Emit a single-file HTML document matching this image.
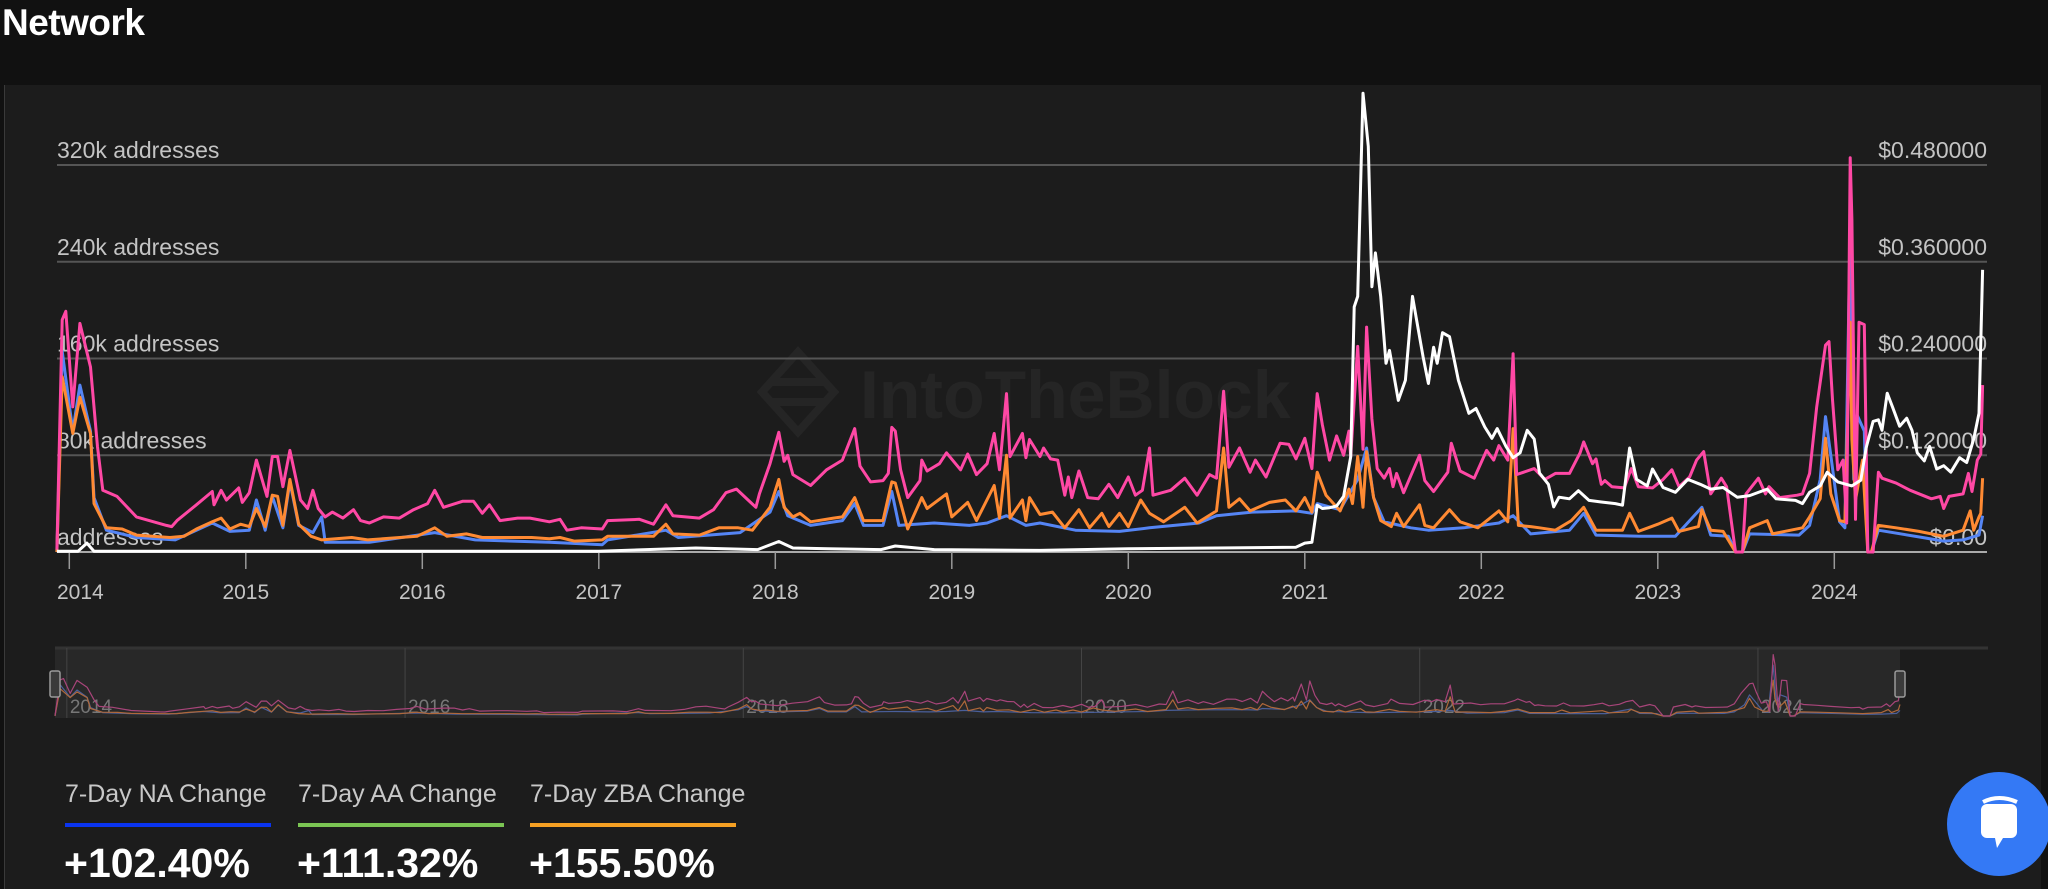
<!DOCTYPE html>
<html><head><meta charset="utf-8"><style>
html,body{margin:0;padding:0;background:#111;width:2048px;height:889px;overflow:hidden;font-family:"Liberation Sans",sans-serif}
#hdr{position:absolute;left:0;top:0;width:2048px;height:85px;background:#111}
#title{position:absolute;left:2px;top:2px;font-size:37px;font-weight:bold;color:#fff;letter-spacing:-0.5px}
#panel{position:absolute;left:4px;top:85px;width:2036px;height:804px;background:#1c1c1c;border-left:1px solid #3a3a3a}
svg{position:absolute;left:0;top:0}
.leg{position:absolute;color:#c8c8c8;font-size:25px}
.val{position:absolute;color:#fff;font-size:41px;font-weight:bold}
.bar{position:absolute;height:4px;width:206px}
#chat{position:absolute;left:1947px;top:772px;width:104px;height:104px;border-radius:52px;background:#3479f5}
</style></head><body>
<div id="hdr"><div id="title">Network</div></div>
<div id="panel"></div>
<svg id="chart" width="2048" height="889"></svg>
<div class="leg" style="left:65px;top:780px">7-Day NA Change</div>
<div class="leg" style="left:298px;top:780px">7-Day AA Change</div>
<div class="leg" style="left:530px;top:780px">7-Day ZBA Change</div>
<div class="bar" style="left:65px;top:823px;background:#0a34f0"></div>
<div class="bar" style="left:298px;top:823px;background:#7bc553"></div>
<div class="bar" style="left:530px;top:823px;background:#f5a023"></div>
<div class="val" style="left:64px;top:840px">+102.40%</div>
<div class="val" style="left:297px;top:840px">+111.32%</div>
<div class="val" style="left:529px;top:840px">+155.50%</div>
<div id="chat">
<svg width="104" height="104" style="position:absolute;left:0;top:0"><rect x="34" y="32" width="36" height="34" rx="6" fill="#fff"/><path d="M36 30 Q52 22 70 30" stroke="#fff" stroke-width="4" fill="none"/><path d="M48 66 L50 76 L56 66Z" fill="#fff"/></svg></div>
<script>
const leftTicks=[0,80,160,240,320];
const leftTickLabels=["addresses","80k addresses","160k addresses","240k addresses","320k addresses"];
const rightTicks=[0,0.12,0.24,0.36,0.48];
const rightTickLabels=["$0.00","$0.120000","$0.240000","$0.360000","$0.480000"];
const years=[2014,2015,2016,2017,2018,2019,2020,2021,2022,2023,2024];
const miniYears=[2014,2016,2018,2020,2022,2024];

const aaDates=[2013.93,2013.96,2013.98,2014.02,2014.06,2014.12,2014.16,2014.19,2014.27,2014.38,2014.55,2014.58,2014.61,2014.72,2014.81,2014.82,2014.86,2014.89,2014.96,2014.98,2015.02,2015.06,2015.12,2015.15,2015.18,2015.21,2015.25,2015.31,2015.35,2015.38,2015.41,2015.45,2015.49,2015.55,2015.61,2015.65,2015.70,2015.78,2015.87,2015.95,2016.03,2016.07,2016.12,2016.23,2016.29,2016.34,2016.38,2016.44,2016.54,2016.61,2016.72,2016.78,2016.82,2016.9,2017.02,2017.05,2017.23,2017.31,2017.38,2017.42,2017.57,2017.65,2017.72,2017.78,2017.86,2017.89,2017.91,2017.97,2018.02,2018.05,2018.07,2018.10,2018.20,2018.29,2018.38,2018.45,2018.48,2018.54,2018.61,2018.64,2018.66,2018.68,2018.71,2018.75,2018.82,2018.83,2018.86,2018.93,2018.97,2019.05,2019.09,2019.14,2019.20,2019.24,2019.27,2019.31,2019.33,2019.40,2019.42,2019.44,2019.50,2019.52,2019.56,2019.60,2019.64,2019.66,2019.68,2019.72,2019.77,2019.83,2019.89,2019.94,2020.0,2020.04,2020.08,2020.12,2020.14,2020.24,2020.32,2020.39,2020.46,2020.5,2020.54,2020.57,2020.63,2020.69,2020.72,2020.78,2020.86,2020.91,2020.95,2021.0,2021.04,2021.07,2021.10,2021.14,2021.18,2021.22,2021.25,2021.26,2021.30,2021.33,2021.35,2021.38,2021.41,2021.45,2021.48,2021.50,2021.52,2021.56,2021.65,2021.68,2021.73,2021.81,2021.83,2021.86,2021.88,2021.96,2022.03,2022.07,2022.10,2022.15,2022.18,2022.20,2022.30,2022.36,2022.42,2022.50,2022.56,2022.58,2022.63,2022.65,2022.68,2022.70,2022.74,2022.81,2022.85,2022.89,2022.97,2023.03,2023.08,2023.12,2023.18,2023.22,2023.26,2023.30,2023.36,2023.39,2023.44,2023.48,2023.50,2023.57,2023.61,2023.63,2023.69,2023.79,2023.82,2023.86,2023.90,2023.95,2023.97,2023.99,2024.02,2024.05,2024.07,2024.09,2024.10,2024.12,2024.14,2024.17,2024.19,2024.22,2024.25,2024.27,2024.35,2024.43,2024.55,2024.60,2024.62,2024.65,2024.73,2024.76,2024.78,2024.81,2024.83,2024.84];
const aaValues=[2,192,199,120,189,153,87,51,46,29,22,21,26,39,50,39,51,43,53,41,49,76,46,79,79,54,84,43,36,51,36,29,33,28,35,26,24,29,28,35,40,51,37,42,42,32,39,26,28,28,25,27,18,20,19,26,27,23,39,30,28,35,49,52,41,37,48,73,99,75,80,64,55,68,76,102,71,58,59,65,103,100,68,45,59,76,67,73,82,68,81,64,73,98,68,131,79,98,78,93,79,86,77,76,47,62,45,67,45,44,56,45,62,47,51,86,47,51,61,47,64,61,133,70,86,66,76,62,90,89,77,94,69,131,105,76,96,80,100,79,170,85,186,110,69,61,69,54,65,49,80,59,50,66,90,76,67,61,84,76,88,76,164,64,69,60,65,65,82,91,73,77,56,59,54,53,69,54,53,60,68,54,62,76,83,48,61,54,0,0,48,61,48,54,45,47,48,65,120,171,174,126,68,76,24,326,275,27,190,188,0,0,66,61,57,51,44,46,36,46,48,65,50,76,81,138];

const zbaDates=[2013.93,2013.96,2014.02,2014.06,2014.12,2014.14,2014.21,2014.30,2014.38,2014.57,2014.65,2014.72,2014.81,2014.86,2014.91,2014.97,2015.02,2015.06,2015.11,2015.15,2015.18,2015.21,2015.25,2015.30,2015.37,2015.43,2015.6,2015.69,2015.97,2016.07,2016.14,2016.25,2016.34,2016.62,2016.72,2016.78,2016.86,2017.02,2017.05,2017.31,2017.38,2017.42,2017.57,2017.68,2017.79,2017.87,2017.97,2018.02,2018.05,2018.10,2018.14,2018.20,2018.33,2018.38,2018.45,2018.50,2018.61,2018.66,2018.68,2018.75,2018.83,2018.86,2018.97,2019.0,2019.09,2019.14,2019.24,2019.27,2019.31,2019.33,2019.40,2019.42,2019.44,2019.50,2019.57,2019.64,2019.72,2019.78,2019.85,2019.89,2019.95,2020.0,2020.07,2020.12,2020.2,2020.32,2020.39,2020.5,2020.54,2020.57,2020.63,2020.69,2020.80,2020.89,2020.95,2021.0,2021.04,2021.07,2021.12,2021.20,2021.25,2021.27,2021.30,2021.33,2021.35,2021.39,2021.43,2021.49,2021.52,2021.56,2021.65,2021.68,2021.73,2021.82,2021.88,2021.98,2022.05,2022.10,2022.15,2022.18,2022.21,2022.28,2022.33,2022.42,2022.51,2022.58,2022.65,2022.80,2022.84,2022.89,2023.0,2023.08,2023.12,2023.23,2023.25,2023.30,2023.37,2023.44,2023.48,2023.52,2023.62,2023.65,2023.82,2023.86,2023.92,2023.95,2023.98,2024.03,2024.06,2024.09,2024.10,2024.12,2024.16,2024.19,2024.21,2024.25,2024.35,2024.48,2024.62,2024.73,2024.77,2024.79,2024.82,2024.83,2024.84];
const zbaValues=[0,145,98,128,98,40,20,19,14,12,13,19,25,28,19,23,21,36,21,47,46,22,60,23,13,10,12,10,13,20,13,15,12,12,11,12,9,10,13,13,23,15,14,20,20,18,37,60,37,29,32,25,28,29,45,26,26,58,57,19,45,36,48,29,41,26,55,28,80,28,43,26,45,31,33,20,35,20,32,21,32,21,43,32,25,37,24,34,86,37,44,34,41,43,34,45,33,66,47,34,52,40,79,37,83,45,26,21,32,21,39,22,20,35,25,20,28,34,25,102,22,21,20,18,26,37,18,18,32,17,23,28,17,21,35,18,17,0,0,20,26,15,20,29,44,94,48,26,25,190,93,43,76,0,0,22,20,17,13,18,34,18,29,32,61];

const naDates=[2013.93,2013.96,2014.02,2014.06,2014.12,2014.14,2014.21,2014.38,2014.6,2014.81,2014.91,2015.02,2015.06,2015.11,2015.15,2015.21,2015.25,2015.30,2015.38,2015.43,2015.45,2015.7,2016.07,2016.3,2016.72,2017.02,2017.05,2017.38,2017.45,2017.8,2017.97,2018.02,2018.07,2018.2,2018.38,2018.45,2018.50,2018.61,2018.66,2018.70,2018.9,2019.1,2019.2,2019.31,2019.42,2019.5,2019.7,2019.95,2020.12,2020.4,2020.5,2020.7,2020.95,2021.04,2021.07,2021.2,2021.3,2021.35,2021.39,2021.45,2021.6,2021.7,2021.9,2022.1,2022.18,2022.28,2022.5,2022.58,2022.65,2022.9,2023.1,2023.25,2023.30,2023.40,2023.44,2023.48,2023.52,2023.8,2023.86,2023.92,2023.95,2023.98,2024.03,2024.06,2024.09,2024.11,2024.13,2024.17,2024.19,2024.21,2024.25,2024.5,2024.62,2024.73,2024.82,2024.84];
const naValues=[0,166,100,138,100,45,18,12,10,24,17,18,43,18,46,20,58,22,16,29,8,8,16,10,8,6,10,18,12,16,33,50,30,22,26,40,22,22,50,22,24,22,24,30,22,24,18,17,20,24,30,33,34,32,40,35,60,86,45,25,20,18,20,24,30,15,18,32,14,13,13,37,14,13,0,0,15,14,22,60,112,80,25,20,270,60,113,100,0,0,18,12,9,10,14,30];

const priceDates=[2013.93,2014.05,2014.10,2014.14,2015.0,2016.0,2017.0,2017.55,2017.9,2018.02,2018.1,2018.3,2018.6,2018.68,2018.9,2019.5,2020.0,2020.5,2020.95,2021.0,2021.04,2021.07,2021.10,2021.14,2021.18,2021.22,2021.26,2021.28,2021.30,2021.33,2021.36,2021.38,2021.40,2021.43,2021.46,2021.48,2021.53,2021.57,2021.61,2021.63,2021.67,2021.70,2021.73,2021.75,2021.78,2021.82,2021.87,2021.93,2021.97,2022.02,2022.06,2022.09,2022.14,2022.18,2022.22,2022.26,2022.30,2022.33,2022.38,2022.41,2022.44,2022.50,2022.55,2022.61,2022.68,2022.76,2022.80,2022.84,2022.88,2022.94,2022.97,2023.03,2023.10,2023.17,2023.24,2023.30,2023.37,2023.45,2023.52,2023.62,2023.67,2023.78,2023.82,2023.86,2023.92,2023.96,2024.02,2024.10,2024.15,2024.18,2024.22,2024.25,2024.27,2024.30,2024.33,2024.37,2024.41,2024.44,2024.47,2024.51,2024.54,2024.58,2024.62,2024.66,2024.71,2024.75,2024.79,2024.82,2024.84];
const priceValues=[0.001,0.001,0.011,0.001,0.001,0.001,0.001,0.005,0.003,0.013,0.005,0.004,0.003,0.0075,0.003,0.002,0.004,0.005,0.006,0.011,0.012,0.058,0.054,0.055,0.057,0.069,0.118,0.304,0.317,0.569,0.503,0.329,0.371,0.317,0.234,0.25,0.188,0.213,0.317,0.292,0.242,0.209,0.254,0.234,0.272,0.267,0.213,0.172,0.178,0.155,0.141,0.153,0.131,0.117,0.123,0.151,0.14,0.098,0.084,0.056,0.068,0.066,0.076,0.064,0.062,0.06,0.058,0.129,0.09,0.082,0.103,0.08,0.074,0.09,0.084,0.078,0.08,0.068,0.07,0.078,0.066,0.064,0.06,0.074,0.082,0.099,0.087,0.082,0.089,0.129,0.162,0.164,0.151,0.197,0.18,0.156,0.166,0.151,0.123,0.113,0.131,0.103,0.107,0.099,0.117,0.111,0.14,0.172,0.35];

const NS='http://www.w3.org/2000/svg';
const svg=document.getElementById('chart');
const X0=69.3, PXY=176.5, PL=57, PR=1987, Y0=552, YT=165;
const xs=d=>X0+(d-2014)*PXY;
const yL=v=>Y0-(v/320)*(Y0-YT);
const yR=v=>Y0-(v/0.48)*(Y0-YT);
const MX0=55, MX1=1900, MY0=648, MY1=718;
const dMin=2013.93, dMax=2024.84;
const mx=d=>MX0+(d-dMin)/(dMax-dMin)*(MX1-MX0);
const my=v=>MY1-2-(v/340)*(MY1-MY0-6);
function mk(tag,attrs){const e=document.createElementNS(NS,tag);for(const k in attrs)e.setAttribute(k,attrs[k]);svg.appendChild(e);return e;}

let wm=mk('text',{x:860,y:418,fill:'#252525','font-size':68,'font-weight':'bold','font-family':'Liberation Sans, sans-serif'});


wm.textContent='IntoTheBlock';
let wl=mk('path',{d:'M762 392 l36 -40 l36 40 l-36 40z M772 382 l52 0 M772 402 l52 0',stroke:'#252525','stroke-width':8,fill:'none'});



leftTicks.forEach((t,i)=>{
  const y=yL(t);
  if(i>0){const g=mk('line',{x1:PL,x2:PR,y1:y,y2:y,stroke:'#555','stroke-width':2});
  
  }
  const tx=mk('text',{x:PL,y:y-7,fill:'#c4c4c4','font-size':23,'font-family':'Liberation Sans, sans-serif'});
  
  
  tx.textContent=leftTickLabels[i];
});
rightTicks.forEach((t,i)=>{
  const tx=mk('text',{x:PR,y:yR(t)-7,fill:'#c4c4c4','font-size':23,'text-anchor':'end','font-family':'Liberation Sans, sans-serif'});
  
  
  tx.textContent=rightTickLabels[i];
});
let ax=mk('line',{x1:PL,x2:PR,y1:Y0,y2:Y0,stroke:'#aaa','stroke-width':2});


years.forEach(yr=>{
  const x=xs(yr);
  const tk=mk('line',{x1:x,x2:x,y1:Y0,y2:Y0+17,stroke:'#999','stroke-width':1.5});
  
  
  const tx=mk('text',{x:yr===2014?PL:x,y:599,fill:'#c4c4c4','font-size':21,'text-anchor':yr===2014?'start':'middle','font-family':'Liberation Sans, sans-serif'});
  
  
  tx.textContent=String(yr);
});
function line(dates,vals,yf,xf,col,w,name){
  const d=dates.map((dt,i)=>(i?'L':'M')+xf(dt).toFixed(1)+' '+yf(vals[i]).toFixed(1)).join(' ');
  const p=mk('path',{d:d,stroke:col,'stroke-width':w,fill:'none','stroke-linejoin':'round'});
  
  
}
line(naDates,naValues,yL,xs,'#5585f5',3,'na-series');
line(zbaDates,zbaValues,yL,xs,'#ff8a33',3,'zba-series');
line(aaDates,aaValues,yL,xs,'#ff48a5',3,'aa-series');
line(priceDates,priceValues,yR,xs,'#ffffff',3,'price-series');

let mb=mk('rect',{x:MX0,y:MY0,width:MX1-MX0,height:MY1-MY0,fill:'#282828'});


let mt=mk('path',{d:`M${MX0} ${MY0} L1988 ${MY0}`,stroke:'#333','stroke-width':3});


miniYears.forEach(yr=>{
  const x=mx(yr);
  const l=mk('line',{x1:x,x2:x,y1:MY0,y2:MY1,stroke:'#444','stroke-width':1});
  
  
  const t=mk('text',{x:x+3,y:713,fill:'#777','font-size':19,'font-family':'Liberation Sans, sans-serif'});
  
  
  t.textContent=String(yr);
});
line(naDates,naValues,my,mx,'#4a5f9a',1.2,'navigator-na');
line(zbaDates,zbaValues,my,mx,'#b0683a',1.2,'navigator-zba');
line(aaDates,aaValues,my,mx,'#a8457a',1.2,'navigator-aa');
[MX0,MX1].forEach(x=>{
  const h=mk('rect',{x:x-5,y:671,width:10,height:26,rx:2,fill:'#3a3a3a',stroke:'#999','stroke-width':1.5});
  
  
});
</script>
</body></html>
